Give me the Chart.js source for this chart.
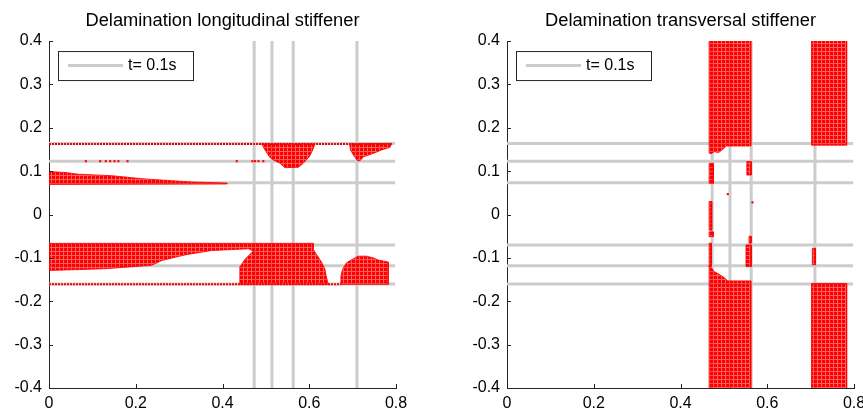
<!DOCTYPE html>
<html>
<head>
<meta charset="utf-8">
<script src="https://cdn.jsdelivr.net/npm/chart.js@4.4.0/dist/chart.umd.min.js"></script>
<style>
  body { margin: 0; background: #fff; width: 863px; height: 412px; overflow: hidden; position: relative; }
  canvas { position: absolute; top: 0; }
  #lonChart { left: 0; }
  #traChart { left: 430px; }
</style>
</head>
<body>
<canvas id="lonChart" width="430" height="412"></canvas>
<canvas id="traChart" width="433" height="412"></canvas>
<script>
// --- DATA ---
const xTicks = [0, 0.2, 0.4, 0.6, 0.8];
const yTicks = [-0.4, -0.3, -0.2, -0.1, 0, 0.1, 0.2, 0.3, 0.4];
const legendLabel = 't= 0.1s';
const titles = ['Delamination longitudinal stiffener', 'Delamination transversal stiffener'];

// stiffener positions (grey lines)
const stiffenerY = [0.164, 0.123, 0.073, -0.070, -0.118, -0.160];
const stiffenerX = [0.473, 0.514, 0.563, 0.710];
const stiffenerXSpan = [0, 0.798];
const stiffenerYSpan = [-0.4, 0.4];

// longitudinal stiffener: delaminated zones (outlines)
const lonBlobTopA = [[0.490,0.163],[0.613,0.163],[0.608,0.149],[0.600,0.133],[0.586,0.118],[0.575,0.109],[0.544,0.108],[0.533,0.118],[0.517,0.126],[0.508,0.133],[0.498,0.149]];
const lonBlobTopB = [[0.693,0.163],[0.790,0.164],[0.786,0.155],[0.767,0.149],[0.748,0.141],[0.725,0.133],[0.717,0.124],[0.711,0.124],[0.702,0.137],[0.695,0.149]];
const lonBandUpper = [[0,0.099],[0.037,0.097],[0.068,0.093],[0.145,0.0895],[0.221,0.082],[0.283,0.078],[0.329,0.075],[0.41,0.0725],[0.41,0.0705],[0,0.0695]];
const lonBlockLower = [[0,-0.0665],[0.609,-0.0665],[0.609,-0.080],[0.619,-0.0957],[0.629,-0.111],[0.636,-0.126],[0.640,-0.146],[0.644,-0.161],
  [0.440,-0.161],[0.440,-0.121],[0.444,-0.115],[0.452,-0.103],[0.463,-0.092],[0.471,-0.084],[0.460,-0.079],[0.375,-0.083],
  [0.314,-0.093],[0.260,-0.106],[0.237,-0.117],[0.129,-0.125],[0,-0.129]];
const lonBlobLower = [[0.673,-0.161],[0.673,-0.142],[0.677,-0.126],[0.686,-0.111],[0.702,-0.102],[0.713,-0.096],[0.732,-0.096],[0.748,-0.100],[0.759,-0.105],[0.782,-0.1095],[0.782,-0.161]];
const lonRowTop = [[0,0.1625],[0.79,0.1625]];
const lonRowBottom = [[0,-0.161],[0.673,-0.161]];
const lonDots = [[0.085,0.123],[0.118,0.123],[0.131,0.123],[0.141,0.123],[0.151,0.123],[0.160,0.123],[0.181,0.123],[0.433,0.123],[0.469,0.123],[0.475,0.123],[0.483,0.123],[0.494,0.123]];

// transversal stiffener: delaminated zones (outlines)
const traColATop = [[0.466,0.402],[0.562,0.402],[0.562,0.158],[0.506,0.158],[0.497,0.150],[0.488,0.143],[0.478,0.145],[0.470,0.140],[0.466,0.142]];
const traColABottom = [[0.466,-0.405],[0.466,-0.118],[0.472,-0.124],[0.478,-0.132],[0.488,-0.137],[0.500,-0.145],[0.509,-0.153],[0.562,-0.153],[0.562,-0.405]];
const traColBTop = [[0.702,0.402],[0.783,0.402],[0.783,0.160],[0.702,0.160]];
const traColBBottom = [[0.702,-0.159],[0.783,-0.159],[0.783,-0.405],[0.702,-0.405]];
const traStripA = [[0.466,0.118],[0.476,0.118],[0.476,0.072],[0.466,0.072]];
const traStripB = [[0.466,0.030],[0.472,0.030],[0.472,-0.036],[0.466,-0.036]];
const traStripC = [[0.466,-0.040],[0.476,-0.040],[0.476,-0.051],[0.466,-0.051]];
const traStripD = [[0.466,-0.066],[0.471,-0.066],[0.471,-0.120],[0.466,-0.120]];
const traStripE = [[0.553,0.122],[0.563,0.122],[0.563,0.091],[0.553,0.091]];
const traStripF = [[0.558,-0.050],[0.563,-0.050],[0.563,-0.066],[0.558,-0.066]];
const traStripG = [[0.551,-0.070],[0.563,-0.070],[0.563,-0.120],[0.551,-0.120]];
const traStripH = [[0.704,-0.078],[0.711,-0.078],[0.711,-0.116],[0.704,-0.116]];
const traDots = [[0.509,0.047],[0.566,0.028]];

// --- STYLE HELPERS ---
const FONT = '"Liberation Sans", Arial, Helvetica, sans-serif';
const AXIS_COLOR = '#262626';
const GREY = '#cccccc';

// marker-grid look of the red delamination zones
function makeRedPattern() {
    const tile = document.createElement('canvas');
    tile.width = 4; tile.height = 4;
    const g = tile.getContext('2d');
    g.fillStyle = 'rgba(255,0,0,0.62)';
    g.fillRect(0, 0, 4, 4);
    g.fillStyle = '#ff0000';
    g.fillRect(0, 0, 3, 3);
    return g.createPattern(tile, 'repeat');
}
const redFill = makeRedPattern();

const toXY = pts => pts.map(p => ({ x: p[0], y: p[1] }));

function polygonSet(pts) {
    const closed = pts.concat([pts[0]]);
    return {
        data: toXY(closed), backgroundColor: redFill, fill: 'shape',
        borderColor: 'rgba(255,0,0,0.85)', borderWidth: 1,
        pointRadius: 0, tension: 0, order: 1
    };
}
function rowSet(pts) {
    return {
        data: toXY(pts), borderColor: '#ff0000', borderWidth: 2, borderDash: [2, 1],
        fill: false, pointRadius: 0, order: 1
    };
}
function dotSet(pts) {
    return {
        data: toXY(pts), showLine: false, pointStyle: 'rect', pointRadius: 1.5,
        pointBackgroundColor: '#ff0000', pointBorderWidth: 0, order: 1
    };
}
function stiffenerSets() {
    const sets = [];
    stiffenerY.forEach(y => sets.push({
        data: stiffenerXSpan.map(x => ({ x, y })), borderColor: GREY, borderWidth: 3,
        fill: false, pointRadius: 0, order: 2
    }));
    stiffenerX.forEach(x => sets.push({
        data: stiffenerYSpan.map(y => ({ x, y })), borderColor: GREY, borderWidth: 3,
        fill: false, pointRadius: 0, order: 2
    }));
    sets[0].label = legendLabel;
    return sets;
}

// --- PLUGINS ---
// MATLAB style ticks pointing into the axes
const inwardTicks = {
    id: 'inwardTicks',
    afterDraw(chart) {
        const { ctx, chartArea, scales } = chart;
        ctx.save();
        ctx.strokeStyle = AXIS_COLOR;
        ctx.lineWidth = 1;
        ctx.beginPath();
        xTicks.forEach(v => {
            const px = Math.round(scales.x.getPixelForValue(v)) + 0.5;
            ctx.moveTo(px, chartArea.bottom);
            ctx.lineTo(px, chartArea.bottom - 4);
        });
        yTicks.forEach(v => {
            const py = Math.round(scales.y.getPixelForValue(v)) + 0.5;
            ctx.moveTo(chartArea.left, py);
            ctx.lineTo(chartArea.left + 4, py);
        });
        ctx.stroke();
        ctx.restore();
    }
};

// boxed legend in the upper left corner
const boxLegend = {
    id: 'boxLegend',
    afterDraw(chart) {
        const { ctx, chartArea } = chart;
        const x0 = chartArea.left + 9, y0 = chartArea.top + 10, w = 135, h = 29;
        ctx.save();
        ctx.fillStyle = '#fff';
        ctx.fillRect(x0, y0, w, h);
        ctx.strokeStyle = AXIS_COLOR;
        ctx.lineWidth = 1;
        ctx.strokeRect(x0 + 0.5, y0 + 0.5, w, h);
        ctx.strokeStyle = GREY;
        ctx.lineWidth = 3;
        ctx.beginPath();
        ctx.moveTo(x0 + 10, y0 + 14.5);
        ctx.lineTo(x0 + 65, y0 + 14.5);
        ctx.stroke();
        ctx.fillStyle = '#000';
        ctx.font = '16px ' + FONT;
        ctx.textBaseline = 'middle';
        ctx.fillText(chart.data.datasets.find(d => d.label).label, x0 + 70, y0 + 15);
        ctx.restore();
    }
};

// --- CHART BUILDER ---
function buildChart(canvasId, title, redSets, yAxisWidth, padRight) {
    const ctx = document.getElementById(canvasId).getContext('2d');
    return new Chart(ctx, {
        type: 'line',
        data: { datasets: redSets.concat(stiffenerSets()) },
        options: {
            responsive: false,
            animation: false,
            events: [],
            layout: { padding: { left: 0, right: padRight, top: 0, bottom: 0 } },
            plugins: {
                legend: { display: false },
                tooltip: { enabled: false },
                title: {
                    display: true, text: title, color: '#000', fullSize: false,
                    font: { family: FONT, size: 18.3, weight: 'normal', lineHeight: 1.15 },
                    padding: { top: 10, bottom: 10 }
                }
            },
            scales: {
                x: {
                    type: 'linear', min: 0, max: 0.8,
                    afterBuildTicks: s => { s.ticks = xTicks.map(v => ({ value: v })); },
                    afterFit: s => { s.height = 24; s.paddingLeft = 0; s.paddingRight = 0; },
                    ticks: { color: '#000', font: { family: FONT, size: 16 }, padding: 6, maxRotation: 0, autoSkip: false, callback: v => String(v) },
                    grid: { display: false, drawTicks: false },
                    border: { display: true, color: AXIS_COLOR, width: 1 }
                },
                y: {
                    type: 'linear', min: -0.4, max: 0.4,
                    afterBuildTicks: s => { s.ticks = yTicks.map(v => ({ value: v })); },
                    afterFit: s => { s.width = yAxisWidth; s.paddingTop = 0; s.paddingBottom = 0; },
                    ticks: { color: '#000', font: { family: FONT, size: 16 }, padding: 7, autoSkip: false, callback: v => String(v) },
                    grid: { display: false, drawTicks: false },
                    border: { display: true, color: AXIS_COLOR, width: 1 }
                }
            }
        },
        plugins: [inwardTicks, boxLegend]
    });
}

const lonRed = [
    polygonSet(lonBlobTopA), polygonSet(lonBlobTopB), polygonSet(lonBandUpper),
    polygonSet(lonBlockLower), polygonSet(lonBlobLower),
    rowSet(lonRowTop), rowSet(lonRowBottom), dotSet(lonDots)
];
const traRed = [
    polygonSet(traColATop), polygonSet(traColABottom), polygonSet(traColBTop), polygonSet(traColBBottom),
    polygonSet(traStripA), polygonSet(traStripB), polygonSet(traStripC), polygonSet(traStripD),
    polygonSet(traStripE), polygonSet(traStripF), polygonSet(traStripG), polygonSet(traStripH),
    dotSet(traDots)
];

buildChart('lonChart', titles[0], lonRed, 49, 34);
buildChart('traChart', titles[1], traRed, 77, 9);
</script>
</body>
</html>
